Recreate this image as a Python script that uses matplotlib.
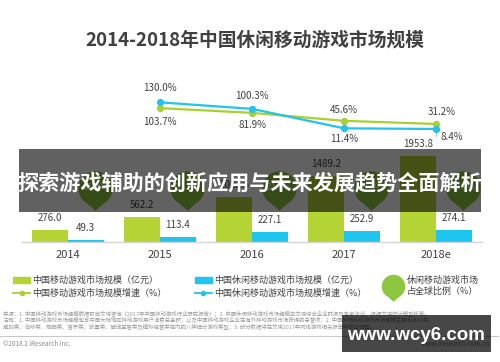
import matplotlib
matplotlib.use('Agg')
import matplotlib.pyplot as plt
from matplotlib.path import Path
from matplotlib.patches import Rectangle, Patch
from matplotlib.lines import Line2D

plt.rcParams['font.family'] = ['Noto Sans CJK SC', 'DejaVu Sans']

years = ['2014', '2015', '2016', '2017', '2018e']
mobile_size = [276.0, 562.2, 1022.6, 1489.2, 1953.8]
casual_size = [49.3, 113.4, 227.1, 252.9, 274.1]
growth_years = [1, 2, 3, 4]
mobile_growth = [103.7, 81.9, 45.6, 31.2]
casual_growth = [130.0, 100.3, 11.4, 8.4]
global_share = [17.9, 20.2, 21.6, 20.8, 19.9]

GREEN = '#b4d335'
BLUE = '#1ec6ef'
LGREEN = '#a9cf32'
LBLUE = '#22c3ee'
BUBBLE = '#8dc63f'
TXT = '#404040'


def bubble_path():
    arc = Path.arc(-62, 242)
    verts = list(arc.vertices) + [(0, -1.3), tuple(arc.vertices[0])]
    codes = list(arc.codes) + [Path.LINETO, Path.CLOSEPOLY]
    return Path(verts, codes)


fig = plt.figure(figsize=(5, 3.62), dpi=100)
ax = fig.add_axes([0.044, 0.3323, 0.92, 0.4467])
x = list(range(len(years)))
w = 0.386

ax.bar([i - w / 2 for i in x], mobile_size, width=w, color=GREEN, zorder=2)
ax.bar([i + w / 2 for i in x], casual_size, width=w, color=BLUE, zorder=2)
for i in x:
    ax.annotate(f'{mobile_size[i]:.1f}', (i - w / 2, mobile_size[i]), xytext=(0, 8.5),
                textcoords='offset points', ha='center', va='center', fontsize=7, color=TXT)
    ax.annotate(f'{casual_size[i]:.1f}', (i + w / 2, casual_size[i]), xytext=(0, 8.2),
                textcoords='offset points', ha='center', va='center', fontsize=7, color=TXT)

# share bubbles (mostly hidden under the banner)
bx = [i + 0.293 for i in x]
by = [1225] * len(x)
ax.scatter(bx, by, marker=bubble_path(), s=32 ** 2, color=BUBBLE, zorder=3, linewidths=0)
for i in x:
    ax.text(bx[i], by[i], f'{global_share[i]:.1f}%', ha='center', va='center',
            fontsize=6.3, color='white', zorder=4)

ax.set_xlim(-0.5, 4.5)
ax.set_ylim(0, 3673)
ax.set_xticks(x)
ax.set_xticklabels(years, fontsize=8, color=TXT)
ax.tick_params(axis='x', length=0, pad=6)
ax.set_yticks([])
for s in ['top', 'left', 'right']:
    ax.spines[s].set_visible(False)
ax.spines['bottom'].set_color('#d5d5d5')
ax.spines['bottom'].set_linewidth(1.0)

ax2 = ax.twinx()
ax2.set_ylim(-506.4, 232)
ax2.set_yticks([])
for s in ['top', 'left', 'right', 'bottom']:
    ax2.spines[s].set_visible(False)
ax2.plot(growth_years, mobile_growth, color=LGREEN, lw=1.6, marker='o', ms=4.2, zorder=3)
ax2.plot(growth_years, casual_growth, color=LBLUE, lw=1.6, marker='o', ms=4.2, zorder=4)

# growth labels
offs_c = [(0, 10), (0, 9.2), (0, -8), (11.5, -5.5)]
offs_m = [(0, -10), (0, -9), (0, 7.5), (4, 8.3)]
for k, g in enumerate(growth_years):
    ax2.annotate(f'{casual_growth[k]:.1f}%', (g, casual_growth[k]), xytext=offs_c[k],
                 textcoords='offset points', ha='center', va='center', fontsize=7, color=TXT)
    ax2.annotate(f'{mobile_growth[k]:.1f}%', (g, mobile_growth[k]), xytext=offs_m[k],
                 textcoords='offset points', ha='center', va='center', fontsize=7, color=TXT)
ax2.annotate('', (4, casual_growth[3]), xytext=(4, -25),
             arrowprops=dict(arrowstyle='-', color='#aaaaaa', lw=0.6,
                             connectionstyle='angle,angleA=0,angleB=90,rad=0', shrinkA=0, shrinkB=2))

# legend
h1 = [Patch(color=GREEN), Line2D([], [], color=LGREEN, marker='o', ms=3, lw=1.3),
      Patch(color=BLUE), Line2D([], [], color=LBLUE, marker='o', ms=3, lw=1.3)]
l1 = ['中国移动游戏市场规模（亿元）', '中国移动游戏市场规模增速（%）',
      '中国休闲移动游戏市场规模（亿元）', '中国休闲移动游戏市场规模增速（%）']
leg1 = fig.legend(h1, l1, ncol=2, loc='upper left', bbox_to_anchor=(0.026, 1 - 276 / 362),
                  frameon=False, fontsize=6.5, handlelength=1.9, handleheight=0.5,
                  handletextpad=0.25, columnspacing=3.1, labelspacing=0.35,
                  borderpad=0, borderaxespad=0)
for t in leg1.get_texts():
    t.set_color(TXT)
h2 = [Line2D([], [], ls='none', marker=bubble_path(), ms=22, color=BUBBLE, mew=0)]
leg2 = fig.legend(h2, ['休闲移动游戏市场\n占全球比例（%）'], loc='upper left',
                  bbox_to_anchor=(0.772, 1 - 276 / 362), frameon=False, fontsize=6.5,
                  handlelength=1.5, handletextpad=0.8, borderpad=0, borderaxespad=0)
for t in leg2.get_texts():
    t.set_color(TXT)

# title
fig.text(0.51, 1 - 40 / 362, '2014-2018年中国休闲移动游戏市场规模', ha='center', va='center',
         fontsize=13.5, fontweight='bold', color='#404040')

# notes
notes = [
    '来源：1. 中国移动游戏市场规模数据取自艾瑞咨询《2017年中国移动游戏行业研究报告》；2. 中国休闲移动游戏市场规模由艾瑞综合企业财报及专家访谈，根据艾瑞统计模型核算。',
    '注释：1. 中国移动游戏市场规模包含中国大陆地区移动游戏用户消费总金额，以及中国移动游戏企业在海外移动游戏市场获得的总营收；2. 中国休闲移动游戏市场规模主要包含IO类、',
    '规则类、消除类、跑酷类、音乐类、放置类、解谜益智类及模拟经营类在内的八种细分游戏类型；3. 部分数据将在艾瑞2017年网络游戏相关报告中做出调整。',
]
for k, line in enumerate(notes):
    fig.text(0.006, 1 - (313.5 + 6.6 * k) / 362, line, ha='left', va='center', fontsize=3.9, color='#9a9a9a')
fig.add_artist(Line2D([0.0, 0.995], [1 - 336 / 362, 1 - 336 / 362], transform=fig.transFigure,
                      color='#c8c8c8', lw=0.8))
fig.text(0.006, 1 - 343.5 / 362, '©2018.2 iResearch Inc.', ha='left', va='center', fontsize=4.6, color='#8a8a8a')
fig.text(0.98, 1 - 343.5 / 362, 'www.iresearch.com.cn', ha='right', va='center', fontsize=4.6, color='#8a8a8a')

# overlay banner
fig.add_artist(Rectangle((19 / 500, 1 - 212 / 362), 462 / 500, 63 / 362, transform=fig.transFigure,
                         facecolor='black', alpha=0.62, edgecolor='none', zorder=10))
fig.text(0.499, 1 - 183 / 362, '探索游戏辅助的创新应用与未来发展趋势全面解析', ha='center', va='center',
         fontsize=15.2, fontweight='bold', color='white', zorder=11)

# watermark
fig.add_artist(Rectangle((342 / 500, 1 - 352 / 362), 149 / 500, 37 / 362, transform=fig.transFigure,
                         facecolor='black', alpha=0.72, edgecolor='none', zorder=10))
fig.text(416 / 500, 1 - 335 / 362, 'www.wcy6.com', ha='center', va='center', fontsize=13.5,
         fontweight='bold', color='white', family='Liberation Sans', zorder=11)

fig.savefig('out.png', dpi=100)
